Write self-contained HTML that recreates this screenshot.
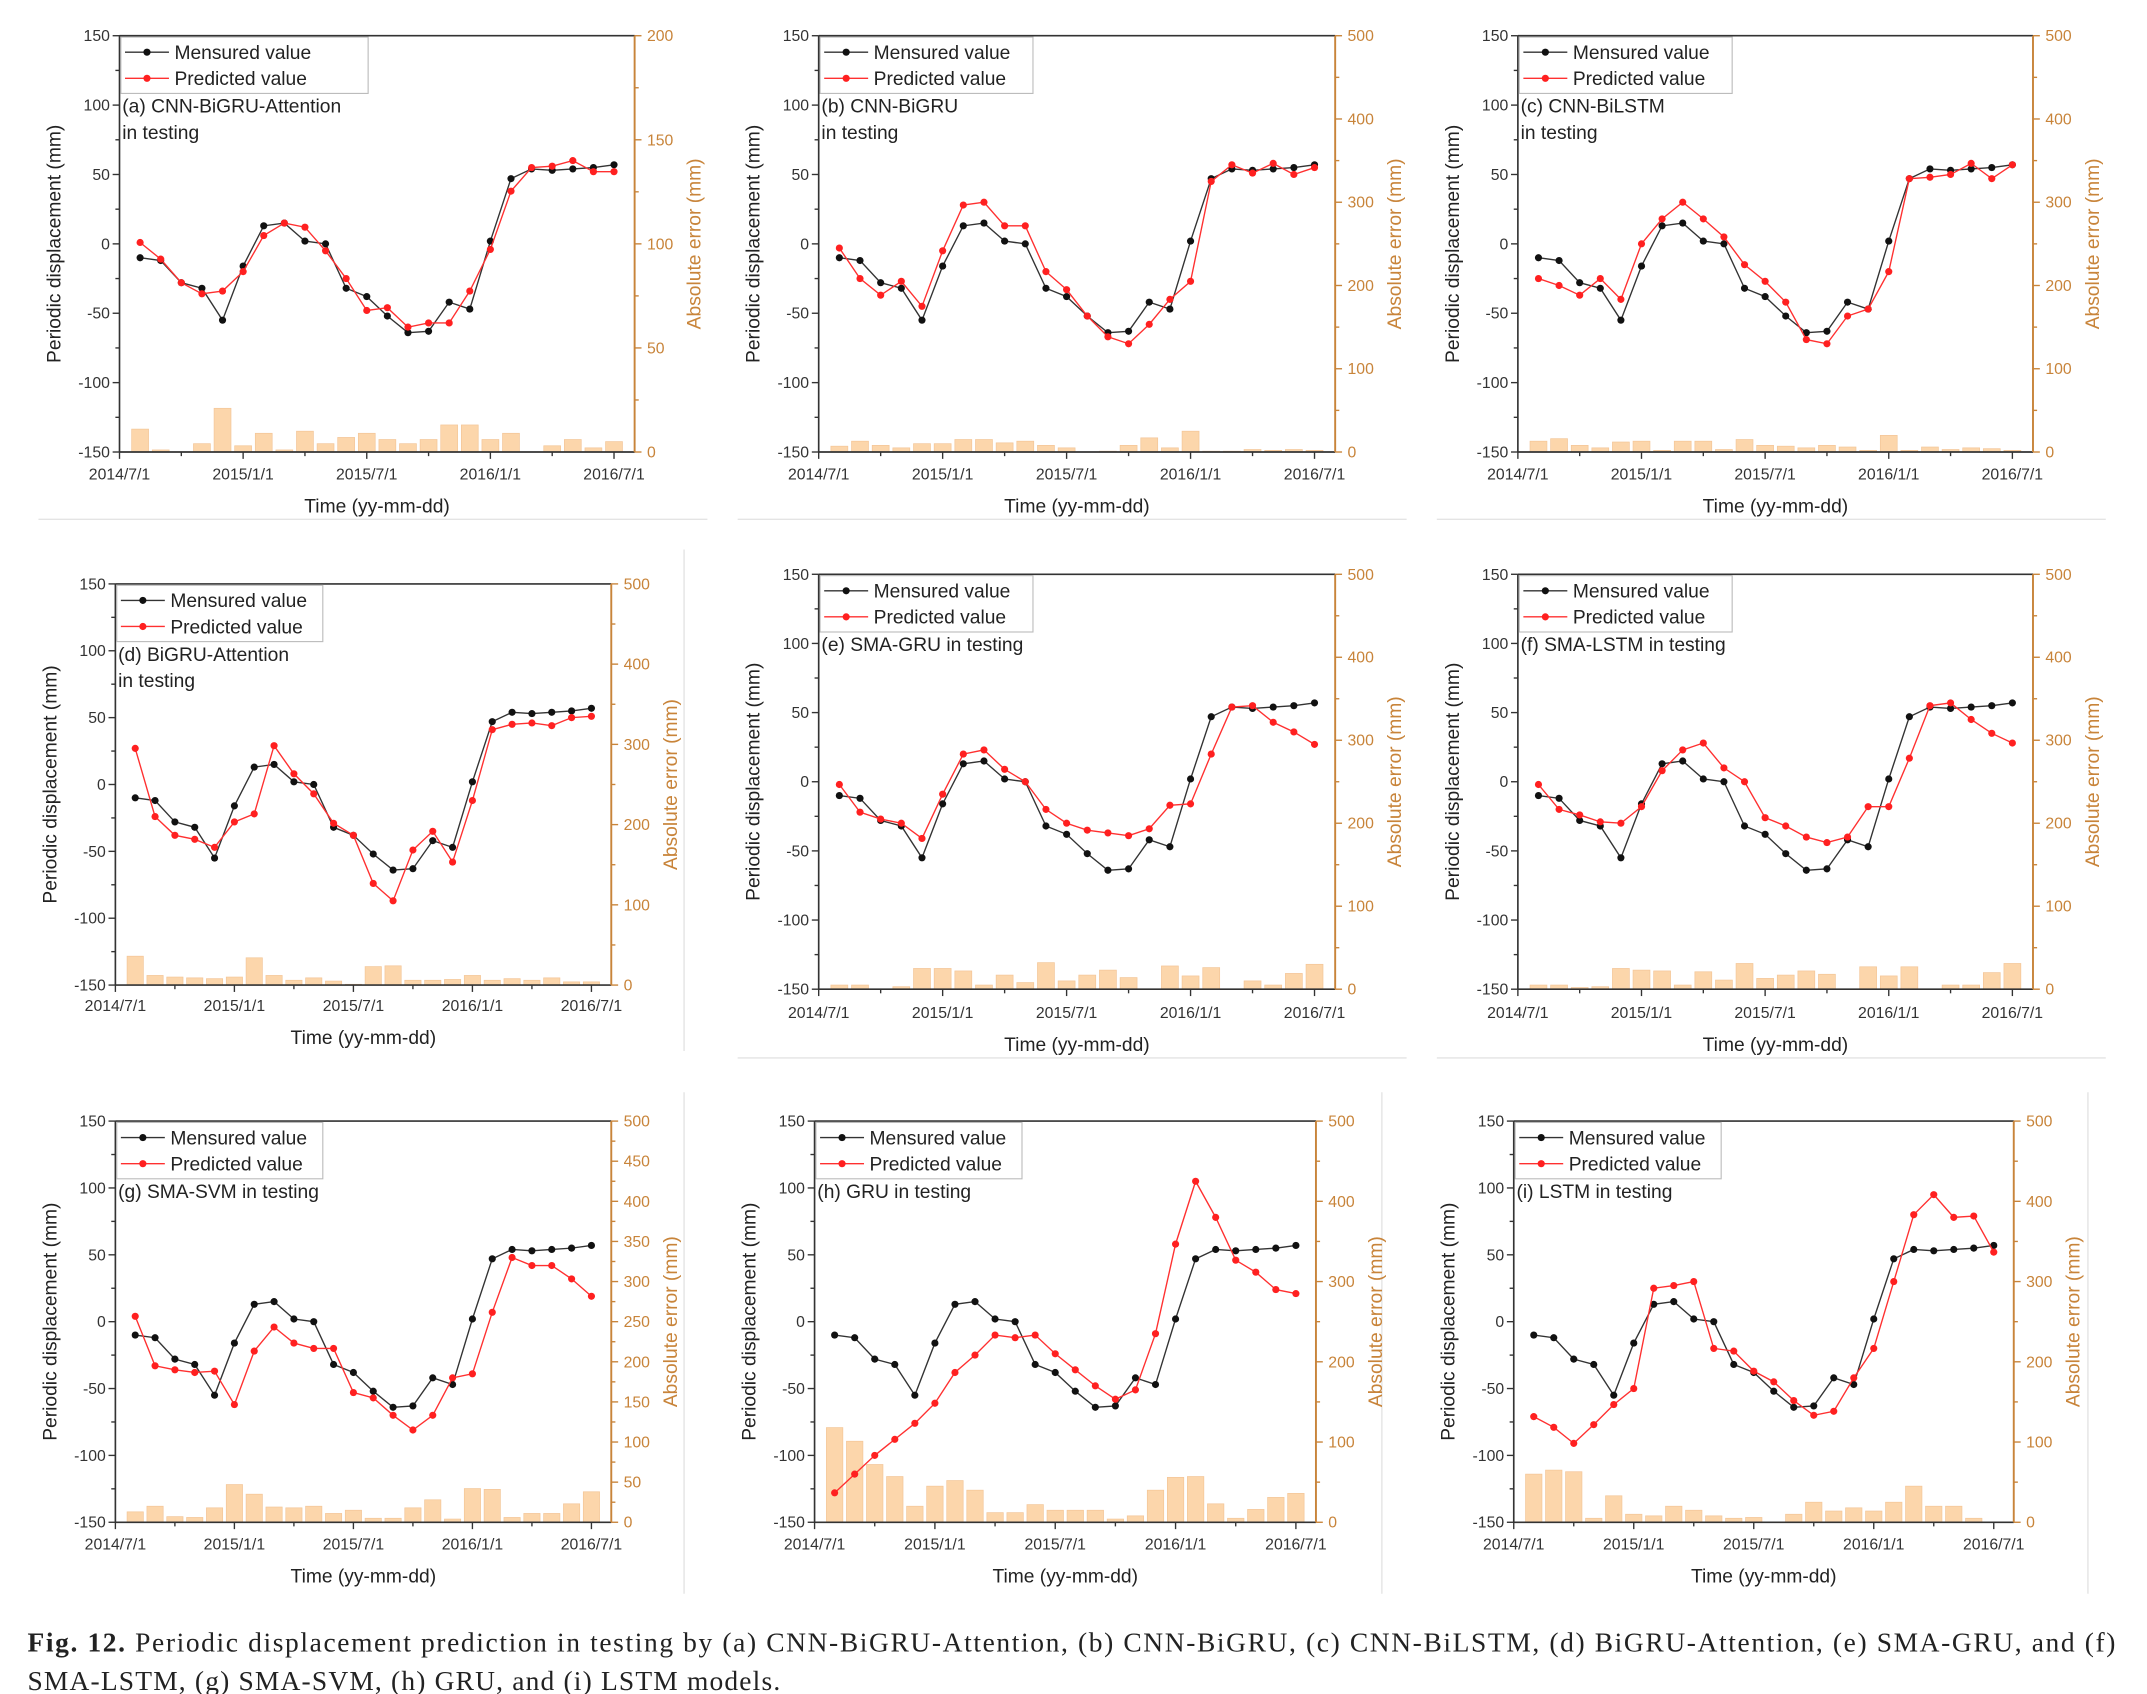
<!DOCTYPE html>
<html><head><meta charset="utf-8"><style>
html,body{margin:0;padding:0;background:#fff}
svg{display:block}
text{font-family:"Liberation Sans",Arial,sans-serif}
text.cap{font-family:"Liberation Serif","Times New Roman",serif}
</style></head><body>
<svg id="fig" width="2147" height="1694" viewBox="0 0 1563 1233" preserveAspectRatio="none" xmlns="http://www.w3.org/2000/svg">
<rect width="1563" height="1233" fill="#fff"/>
<g stroke="#e4e4e4" stroke-width="1">
<line x1="28" y1="378" x2="515" y2="378"/><line x1="537" y1="378" x2="1024" y2="378"/><line x1="1046" y1="378" x2="1533" y2="378"/>
<line x1="537" y1="770" x2="1024" y2="770"/><line x1="1046" y1="770" x2="1533" y2="770"/>
<line x1="498" y1="400" x2="498" y2="765"/>
<line x1="498" y1="795" x2="498" y2="1160"/><line x1="1006" y1="795" x2="1006" y2="1160"/><line x1="1520" y1="795" x2="1520" y2="1160"/>
</g>
<text class="cap" x="20" y="1202" style="font-family:'Liberation Serif',serif" font-size="20" fill="#222" textLength="1520" lengthAdjust="spacing"><tspan font-weight="bold">Fig. 12.</tspan> Periodic displacement prediction in testing by (a) CNN-BiGRU-Attention, (b) CNN-BiGRU, (c) CNN-BiLSTM, (d) BiGRU-Attention, (e) SMA-GRU, and (f)</text>
<text class="cap" x="20" y="1230" style="font-family:'Liberation Serif',serif" font-size="20" fill="#222" textLength="548" lengthAdjust="spacing">SMA-LSTM, (g) SMA-SVM, (h) GRU, and (i) LSTM models.</text>
</svg>
<script>
const measured = [-10,-12,-28,-32,-55,-16,13,15,2,0,-32,-38,-52,-64,-63,-42,-47,2,47,54,53,54,55,57];
const predA = [1,-11,-28,-36,-34,-20,6,15,12,-5,-25,-48,-46,-60,-57,-57,-34,-4,38,55,56,60,52,52];
const errA = [11,1,0,4,21,3,9,1,10,4,7,9,6,4,6,13,13,6,9,0,3,6,2,5];
const predB = [-3,-25,-37,-27,-45,-5,28,30,13,13,-20,-33,-52,-67,-72,-58,-40,-27,45,57,51,58,50,55];
const errB = [7,13,8,5,10,10,15,15,11,13,8,5,0,1,8,17,5,25,1,1,3,2,3,2];
const predC = [-25,-30,-37,-25,-40,0,18,30,18,5,-15,-27,-42,-69,-72,-52,-47,-20,47,48,50,58,47,57];
const errC = [13,16,8,5,12,13,2,13,13,3,15,8,7,5,8,6,2,20,2,6,3,5,4,2];
const predD = [27,-24,-38,-41,-47,-28,-22,29,8,-7,-29,-38,-74,-87,-49,-35,-58,-12,41,45,46,44,50,51];
const errD = [36,12,10,9,8,10,34,12,6,9,5,1,23,24,6,6,7,12,6,8,6,9,4,4];
const predE = [-2,-22,-27,-30,-41,-9,20,23,9,0,-20,-30,-35,-37,-39,-34,-17,-16,20,54,55,43,36,27];
const errE = [5,5,0,3,25,25,22,5,17,8,32,10,17,23,14,0,28,16,26,0,10,5,19,30];
const predF = [-2,-20,-24,-29,-30,-18,8,23,28,10,0,-26,-32,-40,-44,-40,-18,-18,17,55,57,45,35,28];
const errF = [5,5,2,3,25,23,22,5,21,11,31,13,17,22,18,0,27,16,27,0,5,5,20,31];
const predG = [4,-33,-36,-38,-37,-62,-22,-4,-16,-20,-20,-53,-57,-70,-81,-70,-42,-39,7,48,42,42,32,19];
const errG = [13,20,7,6,18,47,35,19,18,20,11,15,5,5,18,28,4,42,41,6,11,11,23,38];
const predH = [-128,-114,-100,-88,-76,-61,-38,-25,-10,-12,-10,-24,-36,-48,-58,-51,-9,58,105,78,46,37,24,21];
const errH = [118,101,72,57,20,45,52,40,12,12,22,15,15,15,4,8,40,56,57,23,5,16,31,36];
const predI = [-71,-79,-91,-77,-62,-50,25,27,30,-20,-22,-37,-45,-59,-70,-67,-42,-20,30,80,95,78,79,52];
const errI = [60,65,63,5,33,10,8,20,15,8,5,6,0,10,25,14,18,14,25,45,20,20,5,0];
const xTickLabels = ["2014/7/1","2015/1/1","2015/7/1","2016/1/1","2016/7/1"];
const leftTicks = [-150,-100,-50,0,50,100,150];

const panels = [
 {id:'a',l:87,r:462,t:26,b:329,xt:345,xl:368,rmax:200,rstep:50,title:['(a) CNN-BiGRU-Attention','in testing'],pred:predA,err:errA,lw:180},
 {id:'b',l:596,r:972,t:26,b:329,xt:345,xl:368,rmax:500,rstep:100,title:['(b) CNN-BiGRU','in testing'],pred:predB,err:errB,lw:155},
 {id:'c',l:1105,r:1480,t:26,b:329,xt:345,xl:368,rmax:500,rstep:100,title:['(c) CNN-BiLSTM','in testing'],pred:predC,err:errC,lw:155},
 {id:'d',l:84,r:445,t:425,b:717,xt:732,xl:755,rmax:500,rstep:100,title:['(d) BiGRU-Attention','in testing'],pred:predD,err:errD,lw:150},
 {id:'e',l:596,r:972,t:418,b:720,xt:737,xl:760,rmax:500,rstep:100,title:['(e) SMA-GRU in testing'],pred:predE,err:errE,lw:155},
 {id:'f',l:1105,r:1480,t:418,b:720,xt:737,xl:760,rmax:500,rstep:100,title:['(f) SMA-LSTM in testing'],pred:predF,err:errF,lw:155},
 {id:'g',l:84,r:445,t:816,b:1108,xt:1124,xl:1147,rmax:500,rstep:50,title:['(g) SMA-SVM in testing'],pred:predG,err:errG,lw:150},
 {id:'h',l:593,r:958,t:816,b:1108,xt:1124,xl:1147,rmax:500,rstep:100,title:['(h) GRU in testing'],pred:predH,err:errH,lw:150},
 {id:'i',l:1102,r:1466,t:816,b:1108,xt:1124,xl:1147,rmax:500,rstep:100,title:['(i) LSTM in testing'],pred:predI,err:errI,lw:150}
];
const NS='http://www.w3.org/2000/svg';
const svg=document.getElementById('fig');
const ORANGE='#c8843a';
function mk(tag,attrs,parent,txt){const e=document.createElementNS(NS,tag);for(const k in attrs)e.setAttribute(k,attrs[k]);if(txt!==undefined)e.textContent=txt;parent.appendChild(e);return e;}
panels.forEach(p=>{
 const g=mk('g',{},svg);
 
 
 const w=p.r-p.l,h=p.b-p.t;
 const X=m=>p.l+m/25*w;
 const Y=v=>p.b-(v+150)/300*h;
 const YR=v=>p.b-v/p.rmax*h;
 const bw=w/25*0.82;
 p.err.forEach((v,i)=>{
  const r=mk('rect',{x:X(i+1)-bw/2,y:YR(v),width:bw,height:Math.max(0,p.b-YR(v)),fill:'#fcd6ab',stroke:'#f3c597','stroke-width':0.5},g);
  
  
 });
 mk('line',{x1:p.l,y1:p.t,x2:p.r,y2:p.t,stroke:'#333','stroke-width':1.2},g);
 mk('line',{x1:p.l,y1:p.t,x2:p.l,y2:p.b,stroke:'#333','stroke-width':1.2},g);
 mk('line',{x1:p.l,y1:p.b,x2:p.r,y2:p.b,stroke:'#333','stroke-width':1.2},g);
 mk('line',{x1:p.r,y1:p.t,x2:p.r,y2:p.b,stroke:ORANGE,'stroke-width':1.4},g);
 for(let v=-150;v<=150;v+=25){mk('line',{x1:p.l-(v%50===0?5:3),y1:Y(v),x2:p.l,y2:Y(v),stroke:'#333','stroke-width':1},g);}
 leftTicks.forEach(v=>{const t=mk('text',{x:p.l-7,y:Y(v)+4,'font-size':11.5,'text-anchor':'end',fill:'#333'},g,String(v));});
 for(let v=0;v<=p.rmax;v+=p.rstep/2){mk('line',{x1:p.r,y1:YR(v),x2:p.r+((v%p.rstep)===0?5:3),y2:YR(v),stroke:ORANGE,'stroke-width':1},g);}
 for(let v=0;v<=p.rmax;v+=p.rstep){const t=mk('text',{x:p.r+9,y:YR(v)+4,'font-size':11.5,fill:ORANGE},g,String(v));}
 for(let m=0;m<=24;m+=3){mk('line',{x1:X(m),y1:p.b,x2:X(m),y2:p.b+(m%6===0?5:3),stroke:'#333','stroke-width':1},g);}
 xTickLabels.forEach((s,k)=>{const t=mk('text',{x:X(k*6),y:p.xt+4,'font-size':11.5,'text-anchor':'middle',fill:'#333'},g,s);});
 const xt=mk('text',{x:(p.l+p.r)/2,y:p.xl+5,'font-size':14,'text-anchor':'middle',fill:'#222'},g,'Time (yy-mm-dd)');
 
 const cy=(p.t+p.b)/2;
 const yt=mk('text',{x:p.l-43,y:cy,'font-size':14,'text-anchor':'middle',fill:'#222',transform:`rotate(-90 ${p.l-43} ${cy})`},g,'Periodic displacement (mm)');
 
 const ry=mk('text',{x:p.r+48,y:cy,'font-size':14,'text-anchor':'middle',fill:ORANGE,transform:`rotate(-90 ${p.r+48} ${cy})`},g,'Absolute error (mm)');
 
 const series=[[measured,'#333','#111','measured-line'],[p.pred,'#ff3030','#ff2020','predicted-line']];
 series.forEach(([arr,lc,pc,nm])=>{
  const pl=mk('polyline',{points:arr.map((v,i)=>X(i+1)+','+Y(v)).join(' '),fill:'none',stroke:lc,'stroke-width':1},g);
  
  arr.forEach((v,i)=>{const c=mk('circle',{cx:X(i+1),cy:Y(v),r:2.6,fill:pc},g);});
 });
 const lg=mk('g',{},g);
 
 mk('rect',{x:p.l+1,y:p.t+1,width:p.lw,height:41,fill:'#fff',stroke:'#bbb','stroke-width':0.8},lg);
 [['Mensured value','#333','#111',12],['Predicted value','#ff3030','#ff2020',31]].forEach(([s,lc,pc,dy])=>{
  mk('line',{x1:p.l+4,y1:p.t+dy,x2:p.l+36,y2:p.t+dy,stroke:lc,'stroke-width':1},lg);
  mk('circle',{cx:p.l+20,cy:p.t+dy,r:2.6,fill:pc},lg);
  const t=mk('text',{x:p.l+40,y:p.t+dy+5,'font-size':14,fill:'#222'},lg,s);
  
 });
 p.title.forEach((s,k)=>{const t=mk('text',{x:p.l+2,y:p.t+56+k*19,'font-size':14,fill:'#222'},g,s);});
});
</script>
</body></html>
